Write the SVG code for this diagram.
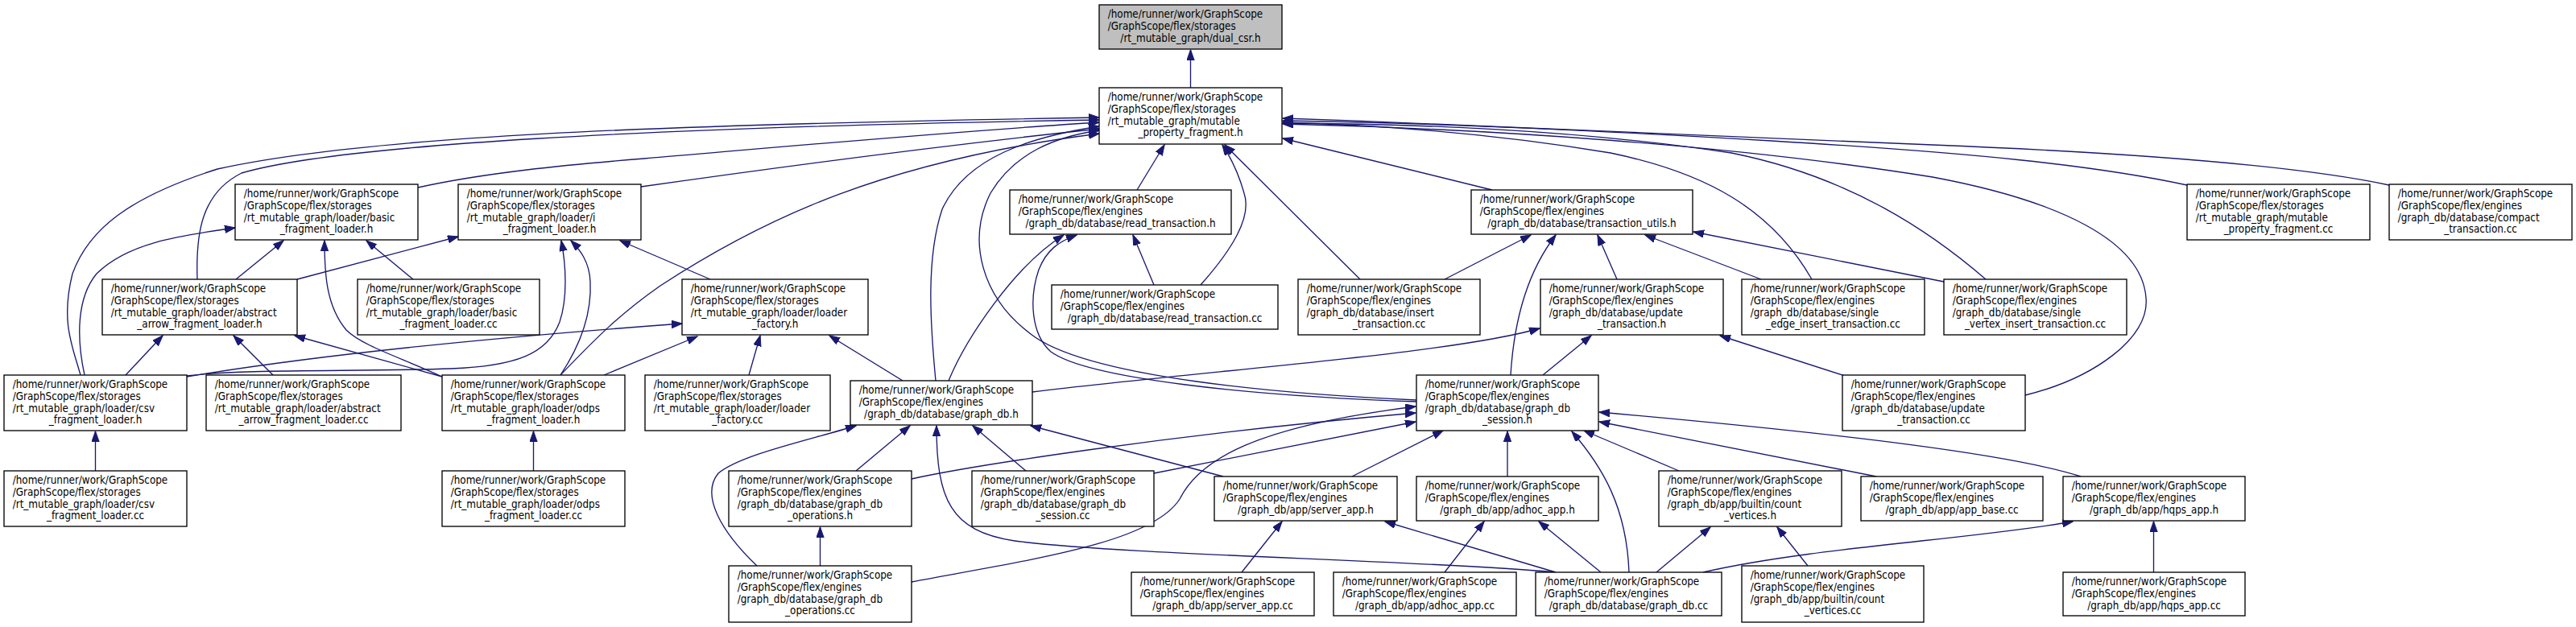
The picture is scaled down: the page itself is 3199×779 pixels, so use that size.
<svg xmlns="http://www.w3.org/2000/svg" width="3199" height="779" viewBox="0 0 3199 779">
<style>
.n rect{fill:#fff;stroke:#000;stroke-width:1.33}
.r rect{fill:#bfbfbf}
text{font-family:'DejaVu Sans Condensed','DejaVu Sans',sans-serif;font-stretch:condensed;font-size:13.33px;fill:#000}
.c{text-anchor:middle}
#edges path{fill:none;stroke:#191970;stroke-width:1.33;marker-end:url(#a)}
</style>
<defs>
<marker id="a" markerWidth="14" markerHeight="10" refX="13" refY="4.7" orient="auto" markerUnits="userSpaceOnUse">
<path d="M0,0 L13.3,4.7 L0,9.4 z" fill="#191970" stroke="#191970" stroke-width="1"/>
</marker>
</defs>
<rect width="3199" height="779" fill="#fff"/>
<g id="edges">
<path d="M1478.5,109 L1478.5,62"/>
<path d="M519,233 C600,215 700,205 800,197 C1000,180 1200,162 1365,152"/>
<path d="M796,232 C950,210 1150,183 1365,160"/>
<path d="M245,347 C243,290 250,240 300,215 C420,180 800,158 1365,149"/>
<path d="M100,466 C90,430 75,400 90,340 C110,285 160,245 270,210 C450,170 800,155 1365,146"/>
<path d="M696,466 C740,420 770,390 820,355 C950,270 1100,200 1365,166"/>
<path d="M1412,236 L1446,180"/>
<path d="M1853,236 L1593,172"/>
<path d="M1491,354 C1530,310 1555,270 1545,240 C1538,215 1528,195 1518,180"/>
<path d="M1689,347 L1521,180"/>
<path d="M1162,473 C1155,400 1150,320 1170,260 C1200,195 1280,170 1365,157"/>
<path d="M1759,497 C1600,490 1350,470 1280,415 C1220,370 1200,300 1230,240 C1260,190 1310,170 1365,162"/>
<path d="M2250,347 C2200,260 2120,215 2000,190 C1850,165 1700,155 1593,152"/>
<path d="M2466,347 C2400,290 2300,220 2150,190 C1950,160 1750,154 1593,153"/>
<path d="M2716,230 C2600,205 2450,190 2200,175 C2000,163 1800,153 1593,150"/>
<path d="M2967,230 C2850,205 2650,190 2400,180 C2100,168 1850,155 1593,147"/>
<path d="M2515,491 C2600,470 2670,420 2665,370 C2660,300 2560,250 2400,220 C2150,180 1850,160 1593,154"/>
<path d="M293,347 L352,299"/>
<path d="M105,466 C95,420 95,370 120,340 C160,300 230,292 292,283"/>
<path d="M549,468 C500,445 450,430 430,410 C405,380 403,340 403,299"/>
<path d="M513,347 L455,299"/>
<path d="M369,347 L569,294"/>
<path d="M232,467 C300,458 450,462 560,458 C640,455 680,440 695,400 C705,370 703,330 697,299"/>
<path d="M696,466 C720,430 735,390 733,350 C732,325 720,310 709,299"/>
<path d="M882,347 L770,299"/>
<path d="M156,466 L202,417"/>
<path d="M339,466 L290,417"/>
<path d="M549,468 L366,417"/>
<path d="M118.5,585 L118.5,536"/>
<path d="M662.5,585 L662.5,536"/>
<path d="M232,468 C400,440 600,420 847,402"/>
<path d="M750,466 L866,418"/>
<path d="M930,466 L944,417"/>
<path d="M1121,473 L1030,417"/>
<path d="M1433,354 L1407,292"/>
<path d="M1178,473 C1200,420 1260,330 1321,292"/>
<path d="M1759,499 C1550,492 1350,470 1305,437 C1280,415 1278,370 1290,335 C1300,310 1315,300 1337,292"/>
<path d="M1794,347 L1901,292"/>
<path d="M1876,466 C1880,400 1895,340 1932,292"/>
<path d="M2008,347 L1984,292"/>
<path d="M2187,347 L2043,292"/>
<path d="M2414,350 L2103,288"/>
<path d="M1282,487 C1500,460 1800,440 1912,408"/>
<path d="M1916,466 L1976,417"/>
<path d="M2291,467 L2136,417"/>
<path d="M940,703 C895,660 870,615 892,588 C920,565 1000,548 1063,529"/>
<path d="M1063,585 L1130,529"/>
<path d="M1932,711 C1750,695 1400,690 1260,672 C1180,660 1163,620 1163,529"/>
<path d="M1274,585 L1208,529"/>
<path d="M1519,592 L1280,529"/>
<path d="M1132,723 C1280,695 1430,675 1465,620 C1490,570 1560,530 1758,505"/>
<path d="M1132,595 C1200,580 1450,540 1758,513"/>
<path d="M1433,588 L1758,524"/>
<path d="M1679,592 L1792,535"/>
<path d="M1872,592 L1872,536"/>
<path d="M2023,711 C2020,630 1990,580 1952,536"/>
<path d="M2085,585 L1967,535"/>
<path d="M2330,592 L1986,524"/>
<path d="M2584,592 C2500,565 2300,540 1986,512"/>
<path d="M1018.5,703 L1018.5,655"/>
<path d="M1542,711 L1592,648"/>
<path d="M1932,711 L1720,648"/>
<path d="M1794,711 L1843,648"/>
<path d="M1988,711 L1911,648"/>
<path d="M2057,711 L2124,655"/>
<path d="M2245,703 L2207,655"/>
<path d="M2115,711 C2250,680 2450,670 2574,648"/>
<path d="M2674.5,711 L2674.5,648"/>
</g>
<g id="n_dual" class="n r"><rect x="1365" y="6" width="227" height="55"/><text x="1375.7" y="22.3">/home/runner/work/GraphScope</text><text x="1375.7" y="37">/GraphScope/flex/storages</text><text class="c" x="1478.5" y="51.7">/rt_mutable_graph/dual_csr.h</text></g>
<g id="n_mut" class="n"><rect x="1365" y="109" width="227" height="70"/><text x="1375.7" y="125.3">/home/runner/work/GraphScope</text><text x="1375.7" y="140">/GraphScope/flex/storages</text><text x="1375.7" y="154.7">/rt_mutable_graph/mutable</text><text class="c" x="1478.5" y="169.3">_property_fragment.h</text></g>
<g id="n_basic_h" class="n"><rect x="292" y="229" width="227" height="69"/><text x="302.7" y="245.3">/home/runner/work/GraphScope</text><text x="302.7" y="260">/GraphScope/flex/storages</text><text x="302.7" y="274.7">/rt_mutable_graph/loader/basic</text><text class="c" x="405.5" y="289.3">_fragment_loader.h</text></g>
<g id="n_ifrag" class="n"><rect x="569" y="229" width="227" height="69"/><text x="579.7" y="245.3">/home/runner/work/GraphScope</text><text x="579.7" y="260">/GraphScope/flex/storages</text><text x="579.7" y="274.7">/rt_mutable_graph/loader/i</text><text class="c" x="682.5" y="289.3">_fragment_loader.h</text></g>
<g id="n_read_h" class="n"><rect x="1254" y="236" width="275" height="55"/><text x="1264.7" y="252.3">/home/runner/work/GraphScope</text><text x="1264.7" y="267">/GraphScope/flex/engines</text><text class="c" x="1391.5" y="281.7">/graph_db/database/read_transaction.h</text></g>
<g id="n_tu_h" class="n"><rect x="1827" y="236" width="275" height="55"/><text x="1837.7" y="252.3">/home/runner/work/GraphScope</text><text x="1837.7" y="267">/GraphScope/flex/engines</text><text class="c" x="1964.5" y="281.7">/graph_db/database/transaction_utils.h</text></g>
<g id="n_mut_cc" class="n"><rect x="2716" y="229" width="227" height="69"/><text x="2726.7" y="245.3">/home/runner/work/GraphScope</text><text x="2726.7" y="260">/GraphScope/flex/storages</text><text x="2726.7" y="274.7">/rt_mutable_graph/mutable</text><text class="c" x="2829.5" y="289.3">_property_fragment.cc</text></g>
<g id="n_compact" class="n"><rect x="2967" y="229" width="227" height="69"/><text x="2977.7" y="245.3">/home/runner/work/GraphScope</text><text x="2977.7" y="260">/GraphScope/flex/engines</text><text x="2977.7" y="274.7">/graph_db/database/compact</text><text class="c" x="3080.5" y="289.3">_transaction.cc</text></g>
<g id="n_abs_h" class="n"><rect x="127" y="347" width="242" height="69"/><text x="137.7" y="363.3">/home/runner/work/GraphScope</text><text x="137.7" y="378">/GraphScope/flex/storages</text><text x="137.7" y="392.7">/rt_mutable_graph/loader/abstract</text><text class="c" x="248" y="407.3">_arrow_fragment_loader.h</text></g>
<g id="n_basic_cc" class="n"><rect x="444" y="347" width="226" height="69"/><text x="454.7" y="363.3">/home/runner/work/GraphScope</text><text x="454.7" y="378">/GraphScope/flex/storages</text><text x="454.7" y="392.7">/rt_mutable_graph/loader/basic</text><text class="c" x="557" y="407.3">_fragment_loader.cc</text></g>
<g id="n_lf_h" class="n"><rect x="847" y="347" width="231" height="69"/><text x="857.7" y="363.3">/home/runner/work/GraphScope</text><text x="857.7" y="378">/GraphScope/flex/storages</text><text x="857.7" y="392.7">/rt_mutable_graph/loader/loader</text><text class="c" x="962.5" y="407.3">_factory.h</text></g>
<g id="n_read_cc" class="n"><rect x="1306" y="354" width="281" height="55"/><text x="1316.7" y="370.3">/home/runner/work/GraphScope</text><text x="1316.7" y="385">/GraphScope/flex/engines</text><text class="c" x="1446.5" y="399.7">/graph_db/database/read_transaction.cc</text></g>
<g id="n_insert" class="n"><rect x="1612" y="347" width="226" height="69"/><text x="1622.7" y="363.3">/home/runner/work/GraphScope</text><text x="1622.7" y="378">/GraphScope/flex/engines</text><text x="1622.7" y="392.7">/graph_db/database/insert</text><text class="c" x="1725" y="407.3">_transaction.cc</text></g>
<g id="n_update_h" class="n"><rect x="1913" y="347" width="227" height="69"/><text x="1923.7" y="363.3">/home/runner/work/GraphScope</text><text x="1923.7" y="378">/GraphScope/flex/engines</text><text x="1923.7" y="392.7">/graph_db/database/update</text><text class="c" x="2026.5" y="407.3">_transaction.h</text></g>
<g id="n_sedge" class="n"><rect x="2163" y="347" width="227" height="69"/><text x="2173.7" y="363.3">/home/runner/work/GraphScope</text><text x="2173.7" y="378">/GraphScope/flex/engines</text><text x="2173.7" y="392.7">/graph_db/database/single</text><text class="c" x="2276.5" y="407.3">_edge_insert_transaction.cc</text></g>
<g id="n_svert" class="n"><rect x="2414" y="347" width="227" height="69"/><text x="2424.7" y="363.3">/home/runner/work/GraphScope</text><text x="2424.7" y="378">/GraphScope/flex/engines</text><text x="2424.7" y="392.7">/graph_db/database/single</text><text class="c" x="2527.5" y="407.3">_vertex_insert_transaction.cc</text></g>
<g id="n_csv_h" class="n"><rect x="5" y="466" width="227" height="69"/><text x="15.7" y="482.3">/home/runner/work/GraphScope</text><text x="15.7" y="497">/GraphScope/flex/storages</text><text x="15.7" y="511.7">/rt_mutable_graph/loader/csv</text><text class="c" x="118.5" y="526.3">_fragment_loader.h</text></g>
<g id="n_abs_cc" class="n"><rect x="256" y="466" width="242" height="69"/><text x="266.7" y="482.3">/home/runner/work/GraphScope</text><text x="266.7" y="497">/GraphScope/flex/storages</text><text x="266.7" y="511.7">/rt_mutable_graph/loader/abstract</text><text class="c" x="377" y="526.3">_arrow_fragment_loader.cc</text></g>
<g id="n_odps_h" class="n"><rect x="549" y="466" width="227" height="69"/><text x="559.7" y="482.3">/home/runner/work/GraphScope</text><text x="559.7" y="497">/GraphScope/flex/storages</text><text x="559.7" y="511.7">/rt_mutable_graph/loader/odps</text><text class="c" x="662.5" y="526.3">_fragment_loader.h</text></g>
<g id="n_lf_cc" class="n"><rect x="801" y="466" width="230" height="69"/><text x="811.7" y="482.3">/home/runner/work/GraphScope</text><text x="811.7" y="497">/GraphScope/flex/storages</text><text x="811.7" y="511.7">/rt_mutable_graph/loader/loader</text><text class="c" x="916" y="526.3">_factory.cc</text></g>
<g id="n_gdb_h" class="n"><rect x="1056" y="473" width="226" height="55"/><text x="1066.7" y="489.3">/home/runner/work/GraphScope</text><text x="1066.7" y="504">/GraphScope/flex/engines</text><text class="c" x="1169" y="518.7">/graph_db/database/graph_db.h</text></g>
<g id="n_sess_h" class="n"><rect x="1759" y="466" width="226" height="69"/><text x="1769.7" y="482.3">/home/runner/work/GraphScope</text><text x="1769.7" y="497">/GraphScope/flex/engines</text><text x="1769.7" y="511.7">/graph_db/database/graph_db</text><text class="c" x="1872" y="526.3">_session.h</text></g>
<g id="n_update_cc" class="n"><rect x="2288" y="466" width="227" height="69"/><text x="2298.7" y="482.3">/home/runner/work/GraphScope</text><text x="2298.7" y="497">/GraphScope/flex/engines</text><text x="2298.7" y="511.7">/graph_db/database/update</text><text class="c" x="2401.5" y="526.3">_transaction.cc</text></g>
<g id="n_csv_cc" class="n"><rect x="5" y="585" width="227" height="69"/><text x="15.7" y="601.3">/home/runner/work/GraphScope</text><text x="15.7" y="616">/GraphScope/flex/storages</text><text x="15.7" y="630.7">/rt_mutable_graph/loader/csv</text><text class="c" x="118.5" y="645.3">_fragment_loader.cc</text></g>
<g id="n_odps_cc" class="n"><rect x="549" y="585" width="227" height="69"/><text x="559.7" y="601.3">/home/runner/work/GraphScope</text><text x="559.7" y="616">/GraphScope/flex/storages</text><text x="559.7" y="630.7">/rt_mutable_graph/loader/odps</text><text class="c" x="662.5" y="645.3">_fragment_loader.cc</text></g>
<g id="n_ops_h" class="n"><rect x="905" y="585" width="227" height="69"/><text x="915.7" y="601.3">/home/runner/work/GraphScope</text><text x="915.7" y="616">/GraphScope/flex/engines</text><text x="915.7" y="630.7">/graph_db/database/graph_db</text><text class="c" x="1018.5" y="645.3">_operations.h</text></g>
<g id="n_sess_cc" class="n"><rect x="1207" y="585" width="226" height="69"/><text x="1217.7" y="601.3">/home/runner/work/GraphScope</text><text x="1217.7" y="616">/GraphScope/flex/engines</text><text x="1217.7" y="630.7">/graph_db/database/graph_db</text><text class="c" x="1320" y="645.3">_session.cc</text></g>
<g id="n_server_h" class="n"><rect x="1508" y="592" width="227" height="55"/><text x="1518.7" y="608.3">/home/runner/work/GraphScope</text><text x="1518.7" y="623">/GraphScope/flex/engines</text><text class="c" x="1621.5" y="637.7">/graph_db/app/server_app.h</text></g>
<g id="n_adhoc_h" class="n"><rect x="1759" y="592" width="226" height="55"/><text x="1769.7" y="608.3">/home/runner/work/GraphScope</text><text x="1769.7" y="623">/GraphScope/flex/engines</text><text class="c" x="1872" y="637.7">/graph_db/app/adhoc_app.h</text></g>
<g id="n_count_h" class="n"><rect x="2060" y="585" width="227" height="69"/><text x="2070.7" y="601.3">/home/runner/work/GraphScope</text><text x="2070.7" y="616">/GraphScope/flex/engines</text><text x="2070.7" y="630.7">/graph_db/app/builtin/count</text><text class="c" x="2173.5" y="645.3">_vertices.h</text></g>
<g id="n_appbase" class="n"><rect x="2311" y="592" width="226" height="55"/><text x="2321.7" y="608.3">/home/runner/work/GraphScope</text><text x="2321.7" y="623">/GraphScope/flex/engines</text><text class="c" x="2424" y="637.7">/graph_db/app/app_base.cc</text></g>
<g id="n_hqps_h" class="n"><rect x="2562" y="592" width="226" height="55"/><text x="2572.7" y="608.3">/home/runner/work/GraphScope</text><text x="2572.7" y="623">/GraphScope/flex/engines</text><text class="c" x="2675" y="637.7">/graph_db/app/hqps_app.h</text></g>
<g id="n_ops_cc" class="n"><rect x="905" y="703" width="227" height="70"/><text x="915.7" y="719.3">/home/runner/work/GraphScope</text><text x="915.7" y="734">/GraphScope/flex/engines</text><text x="915.7" y="748.7">/graph_db/database/graph_db</text><text class="c" x="1018.5" y="763.3">_operations.cc</text></g>
<g id="n_server_cc" class="n"><rect x="1405" y="711" width="227" height="54"/><text x="1415.7" y="727.3">/home/runner/work/GraphScope</text><text x="1415.7" y="742">/GraphScope/flex/engines</text><text class="c" x="1518.5" y="756.7">/graph_db/app/server_app.cc</text></g>
<g id="n_adhoc_cc" class="n"><rect x="1656" y="711" width="227" height="54"/><text x="1666.7" y="727.3">/home/runner/work/GraphScope</text><text x="1666.7" y="742">/GraphScope/flex/engines</text><text class="c" x="1769.5" y="756.7">/graph_db/app/adhoc_app.cc</text></g>
<g id="n_gdb_cc" class="n"><rect x="1907" y="711" width="231" height="54"/><text x="1917.7" y="727.3">/home/runner/work/GraphScope</text><text x="1917.7" y="742">/GraphScope/flex/engines</text><text class="c" x="2022.5" y="756.7">/graph_db/database/graph_db.cc</text></g>
<g id="n_count_cc" class="n"><rect x="2163" y="703" width="226" height="70"/><text x="2173.7" y="719.3">/home/runner/work/GraphScope</text><text x="2173.7" y="734">/GraphScope/flex/engines</text><text x="2173.7" y="748.7">/graph_db/app/builtin/count</text><text class="c" x="2276" y="763.3">_vertices.cc</text></g>
<g id="n_hqps_cc" class="n"><rect x="2562" y="711" width="226" height="54"/><text x="2572.7" y="727.3">/home/runner/work/GraphScope</text><text x="2572.7" y="742">/GraphScope/flex/engines</text><text class="c" x="2675" y="756.7">/graph_db/app/hqps_app.cc</text></g>
</svg>
